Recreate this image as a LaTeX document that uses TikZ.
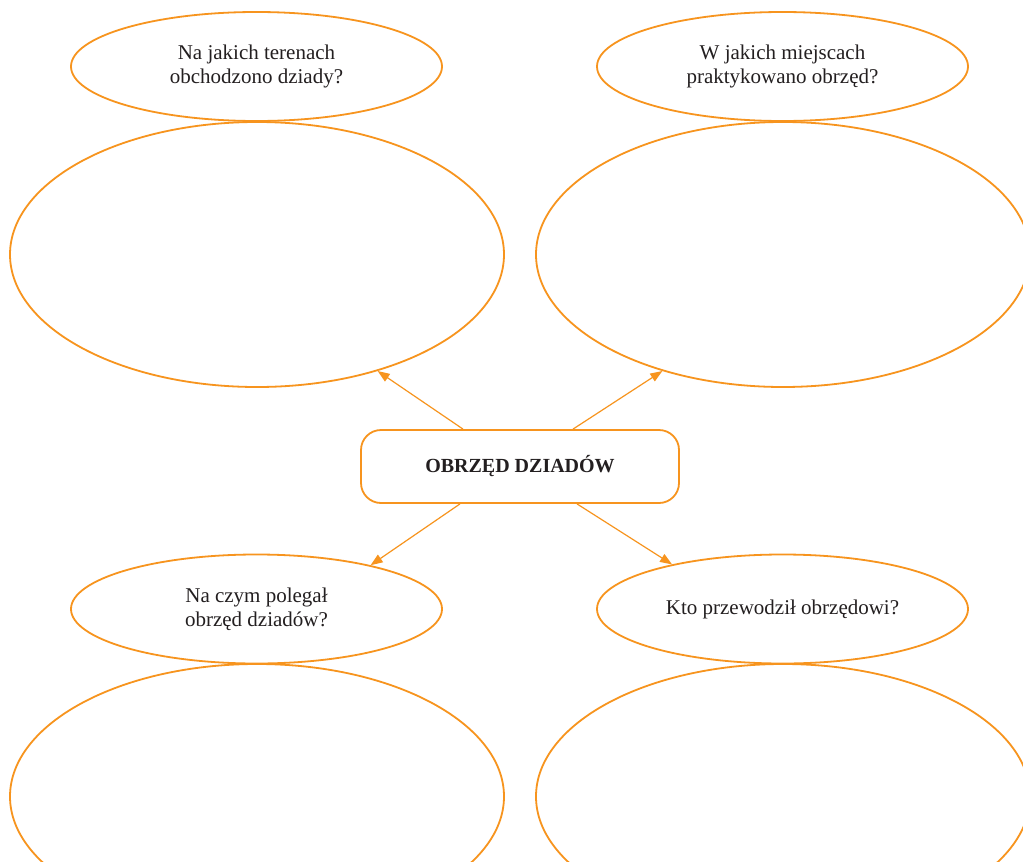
\documentclass[tikz,border=0pt]{standalone}
\usepackage{fontspec}
\setmainfont{Liberation Serif}
\usetikzlibrary{shapes.geometric,arrows.meta}
\definecolor{frame}{HTML}{F7941E}
\definecolor{ink}{HTML}{231F20}
\begin{document}
\begin{tikzpicture}[x=1pt,y=-1pt,
  q/.style={ellipse,draw=frame,line width=1.8pt,inner sep=0pt,minimum width=371pt,minimum height=109pt,text=ink,align=center,font=\fontsize{21}{24}\selectfont},
  big/.style={ellipse,draw=frame,line width=1.8pt,inner sep=0pt,minimum width=494pt,minimum height=265pt},
  hub/.style={draw=frame,line width=1.8pt,rounded corners=20pt,inner sep=0pt,minimum width=318pt,minimum height=73pt,text=ink,font=\bfseries\fontsize{20}{24}\selectfont},
  link/.style={draw=frame,line width=1.2pt,-{Triangle[length=12pt,width=9pt]}}]
\clip (0,0) rectangle (1023,862);
\fill[white] (0,0) rectangle (1023,862);
\node[q] (qtl) at (256.5,66.5) {Na jakich terenach\\obchodzono dziady?};
\node[q] (qtr) at (782.5,66.5) {W jakich miejscach\\praktykowano obrzęd?};
\node[q] (qbl) at (256.5,609) {Na czym polegał\\obrzęd dziadów?};
\node[q] (qbr) at (782.5,609) {Kto przewodził obrzędowi?};
\node[big] (atl) at (257,254.5) {};
\node[big] (atr) at (783,254.5) {};
\node[big] (abl) at (257,796.5) {};
\node[big] (abr) at (783,796.5) {};
\node[hub] (hub) at (520,466.5) {OBRZĘD DZIADÓW};
\draw[link] ([xshift=-57pt]hub.north) -- (atl.-44);
\draw[link] ([xshift=53pt]hub.north) -- (atr.-136);
\draw[link] ([xshift=-60pt]hub.south) -- (qbl.21.6);
\draw[link] ([xshift=57pt]hub.south) -- (qbr.158.4);
\end{tikzpicture}
\end{document}
